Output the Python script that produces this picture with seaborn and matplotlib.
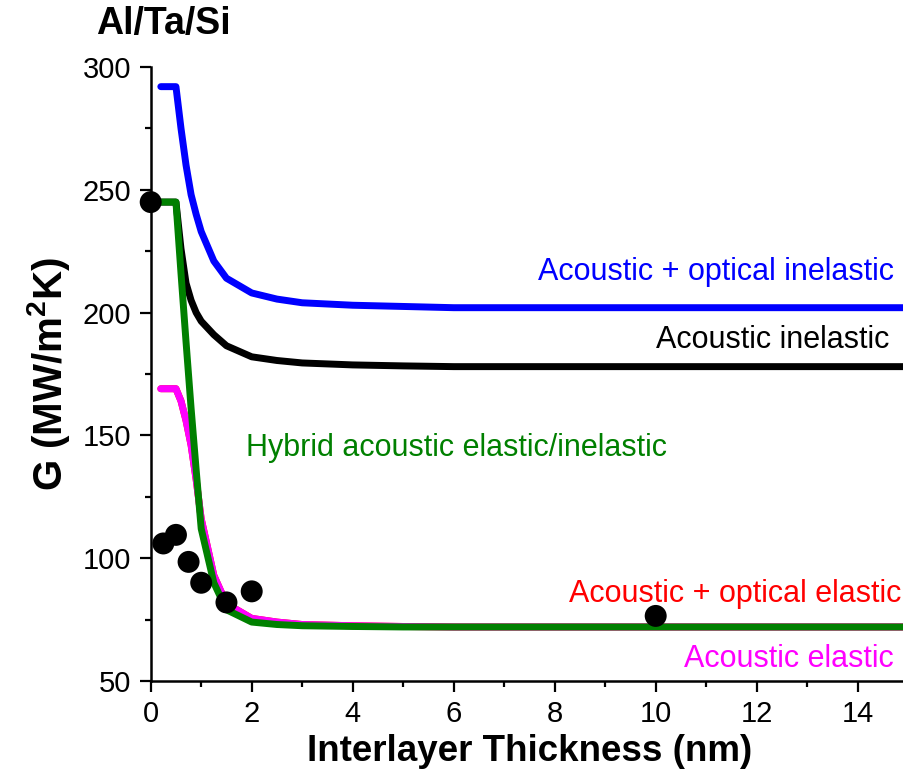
import matplotlib
matplotlib.use("Agg")
import matplotlib.pyplot as plt
import seaborn as sns
import pandas as pd
from matplotlib.ticker import MultipleLocator

# ---- data ----
x_model = [0.2, 0.5, 0.6, 0.7, 0.8, 0.9, 1.0, 1.25, 1.5, 2.0, 2.5, 3.0, 4.0, 5.0, 6.0, 8.0, 10.0, 12.0, 15.0]
acoustic_optical_inelastic = [292, 292, 275, 260, 248, 240, 233, 221, 214, 208, 205.5, 204, 203, 202.5, 202, 202, 202, 202, 202]
acoustic_inelastic = [245, 245, 226, 212, 205, 200, 196.5, 191, 186.5, 182, 180.5, 179.5, 178.7, 178.3, 178, 178, 178, 178, 178]
hybrid = [245, 245, 216, 188, 161, 136, 112, 90, 79, 74, 73, 72.5, 72.2, 72, 72, 72, 72, 72, 72]
acoustic_optical_elastic = [169, 169, 164, 156, 146, 132, 116, 93, 81.5, 75.5, 74, 73, 72.5, 72.2, 72, 72, 72, 72, 72]
acoustic_elastic = [169, 169, 164, 156, 146, 132, 116, 93, 81.5, 75.5, 74, 73, 72.5, 72.2, 72, 72, 72, 72, 72]

x_exp = [0.0, 0.25, 0.5, 0.75, 1.0, 1.5, 2.0, 10.0]
g_exp = [245, 106, 109.5, 98.5, 90, 82, 86.5, 76.5]

labels = ["Acoustic + optical inelastic", "Acoustic inelastic",
          "Hybrid acoustic elastic/inelastic", "Acoustic + optical elastic",
          "Acoustic elastic"]

sns.set_theme(style="ticks")
plt.rcParams["font.family"] = ["Liberation Sans", "DejaVu Sans"]
plt.rcParams["mathtext.fontset"] = "custom"
plt.rcParams["mathtext.bf"] = "Liberation Sans:bold"
plt.rcParams["mathtext.rm"] = "Liberation Sans:bold"
for k in ["text.color", "axes.labelcolor", "xtick.color", "ytick.color", "axes.edgecolor"]:
    plt.rcParams[k] = "black"

fig = plt.figure(figsize=(9.04, 7.8), dpi=100)
ax = fig.add_axes([150.7 / 904, 99 / 780, 15 * 50.5 / 904, 614 / 780])

lw = 5
series = [
    (acoustic_optical_elastic, "#FF0000"),
    (acoustic_elastic, "#FF00FF"),
    (acoustic_inelastic, "#000000"),
    (acoustic_optical_inelastic, "#0000FF"),
    (hybrid, "#008000"),
]
for vals, col in series:
    df = pd.DataFrame({"x": x_model, "y": vals})
    sns.lineplot(data=df, x="x", y="y", color=col, linewidth=lw, ax=ax,
                 estimator=None, sort=False)

dfe = pd.DataFrame({"x": x_exp, "y": g_exp})
sns.scatterplot(data=dfe, x="x", y="y", color="black", s=250, edgecolor="none",
                ax=ax, zorder=5, clip_on=False)

ax.set_xlim(0, 15)
ax.set_ylim(50, 300)
ax.xaxis.set_major_locator(MultipleLocator(2))
ax.xaxis.set_minor_locator(MultipleLocator(1))
ax.yaxis.set_major_locator(MultipleLocator(50))
ax.yaxis.set_minor_locator(MultipleLocator(25))

for s in ["top", "right"]:
    ax.spines[s].set_visible(False)
for s in ["left", "bottom"]:
    ax.spines[s].set_linewidth(1.8)
ax.tick_params(which="major", direction="out", length=8, width=1.6, labelsize=21, pad=6)
ax.tick_params(which="minor", direction="out", length=4, width=1.6)

ax.set_xlabel("Interlayer Thickness (nm)", fontsize=26.5, fontweight="bold", labelpad=4)
ax.set_ylabel(r"G (MW/m$^{\mathbf{2}}$K)", fontsize=29, fontweight="bold", labelpad=8)

fig.text(96 / 904, 1 - 24 / 780, "Al/Ta/Si", fontsize=27, fontweight="bold",
         ha="left", va="center")

fs = 22
ax.text(14.72, 216.5, labels[0], color="#0000FF", fontsize=fs, ha="right", va="center")
ax.text(14.62, 188.8, labels[1], color="#000000", fontsize=fs, ha="right", va="center")
ax.text(1.89, 144.9, labels[2], color="#008000", fontsize=fs, ha="left", va="center")
ax.text(14.86, 85.4, labels[3], color="#FF0000", fontsize=fs, ha="right", va="center")
ax.text(14.72, 59.0, labels[4], color="#FF00FF", fontsize=fs, ha="right", va="center")

fig.savefig("out.png", dpi=100)
